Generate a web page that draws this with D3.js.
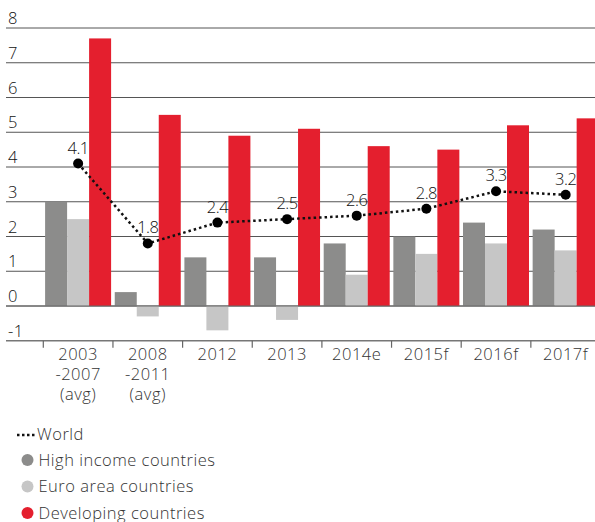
<!DOCTYPE html>
<html>
<head>
<meta charset="utf-8">
<script src="https://cdn.jsdelivr.net/npm/d3@7"></script>
<style>
  body { margin: 0; background: #fff; }
  svg text { font-family: "Open Sans", Lato, sans-serif; font-weight: 300; letter-spacing: 0.5px; }
</style>
</head>
<body>
<svg width="595" height="522"></svg>
<script>
const categories = ["2003\n-2007\n(avg)", "2008\n-2011\n(avg)", "2012", "2013", "2014e", "2015f", "2016f", "2017f"];
const highIncome = [3.0, 0.4, 1.4, 1.4, 1.8, 2.0, 2.4, 2.2];
const euroArea = [2.5, -0.3, -0.7, -0.4, 0.9, 1.5, 1.8, 1.6];
const developing = [7.7, 5.5, 4.9, 5.1, 4.6, 4.5, 5.2, 5.4];
const world = [4.1, 1.8, 2.4, 2.5, 2.6, 2.8, 3.3, 3.2];
const yTicks = [-1, 0, 1, 2, 3, 4, 5, 6, 7, 8];

const seriesNames = ["High income countries", "Euro area countries", "Developing countries"];
const seriesColors = ["#8c8c8b", "#c6c6c6", "#e41f2e"];
const seriesValues = [highIncome, euroArea, developing];

const svg = d3.select('svg');
const width = +svg.attr('width');

const y = d3.scaleLinear().domain([-1, 8]).range([340.75, 28]);
const x0 = d3.scaleBand().domain(categories).range([43.3, 600.5]);
const x1 = d3.scaleBand().domain(seriesNames).range([1.8, 67.8]);

// gridlines
const grid = svg.append('g');
grid.selectAll('line')
    .data(yTicks)
    .enter()
    .append('line')
    .attr('x1', 6)
    .attr('x2', width)
    .attr('y1', d => y(d))
    .attr('y2', d => y(d))
    .attr('stroke', d => d === -1 ? '#777' : '#555')
    .attr('stroke-width', d => d === -1 ? 1.5 : 1);

grid.selectAll('text')
    .data(yTicks)
    .enter()
    .append('text')
    .attr('x', 8)
    .attr('y', d => y(d) - 4)
    .attr('font-size', 16.5)
    .attr('font-weight', 400)
    .attr('fill', '#111')
    .text(d => d);

// bars
const bars = svg.append('g');
categories.forEach((c, i) => {
    bars.selectAll(null)
        .data(seriesNames.map((s, j) => ({s: s, v: seriesValues[j][i], color: seriesColors[j]})))
        .enter()
        .append('rect')
        .attr('x', d => x0(c) + x1(d.s))
        .attr('width', x1.bandwidth())
        .attr('y', d => y(Math.max(0, d.v)))
        .attr('height', d => Math.abs(y(d.v) - y(0)))
        .attr('fill', d => d.color);
});

// zero line
svg.append('line')
    .attr('x1', 6).attr('x2', width)
    .attr('y1', y(0)).attr('y2', y(0))
    .attr('stroke', '#666').attr('stroke-width', 1);

// x ticks and labels
const xaxisG = svg.append('g');
xaxisG.selectAll('line')
    .data(categories)
    .enter()
    .append('line')
    .attr('x1', d => x0(d)).attr('x2', d => x0(d))
    .attr('y1', y(-1)).attr('y2', y(-1) + 7)
    .attr('stroke', '#666').attr('stroke-width', 1.2);

xaxisG.selectAll('text')
    .data(categories)
    .enter()
    .append('text')
    .attr('text-anchor', 'middle')
    .attr('font-size', 16.5)
    .attr('fill', '#333')
    .each(function(d) {
        const t = d3.select(this);
        d.split('\n').forEach((line, k) => {
            t.append('tspan')
                .attr('x', x0(d) + x0.bandwidth() / 2)
                .attr('y', 360 + k * 20)
                .text(line);
        });
    });

// world line
const cx = (d, i) => x0(categories[i]) + x0.bandwidth() / 2;
const line = d3.line()
    .x((d, i) => cx(d, i))
    .y(d => y(d));

svg.append('path')
    .datum(world)
    .attr('d', line)
    .attr('fill', 'none')
    .attr('stroke', '#111')
    .attr('stroke-width', 2.5)
    .attr('stroke-dasharray', '2.5,3');

svg.selectAll('circle.world')
    .data(world)
    .enter()
    .append('circle')
    .attr('class', 'world')
    .attr('cx', cx)
    .attr('cy', d => y(d))
    .attr('r', 5)
    .attr('fill', '#000');

svg.selectAll('text.wlabel')
    .data(world)
    .enter()
    .append('text')
    .attr('class', 'wlabel')
    .attr('x', cx)
    .attr('y', d => y(d) - 10)
    .attr('text-anchor', 'middle')
    .attr('font-size', 16.5)
    .attr('font-weight', 400)
    .attr('fill', '#111')
    .style('letter-spacing', '-0.5px')
    .text(d => d.toFixed(1));

// legend
const legend = svg.append('g');
legend.append('line')
    .attr('x1', 17).attr('x2', 37)
    .attr('y1', 435).attr('y2', 435)
    .attr('stroke', '#111')
    .attr('stroke-width', 2.5)
    .attr('stroke-dasharray', '2.5,2.5');
legend.append('text')
    .attr('x', 37).attr('y', 440)
    .attr('font-size', 16.5).attr('fill', '#333')
    .text('World');

seriesNames.forEach((s, j) => {
    const ly = 460 + j * 26.5;
    legend.append('circle')
        .attr('cx', 27.5).attr('cy', ly)
        .attr('r', 6)
        .attr('fill', seriesColors[j]);
    legend.append('text')
        .attr('x', 38.5).attr('y', ly + 5.5)
        .attr('font-size', 16.5).attr('fill', '#333')
        .text(s);
});
</script>
</body>
</html>
